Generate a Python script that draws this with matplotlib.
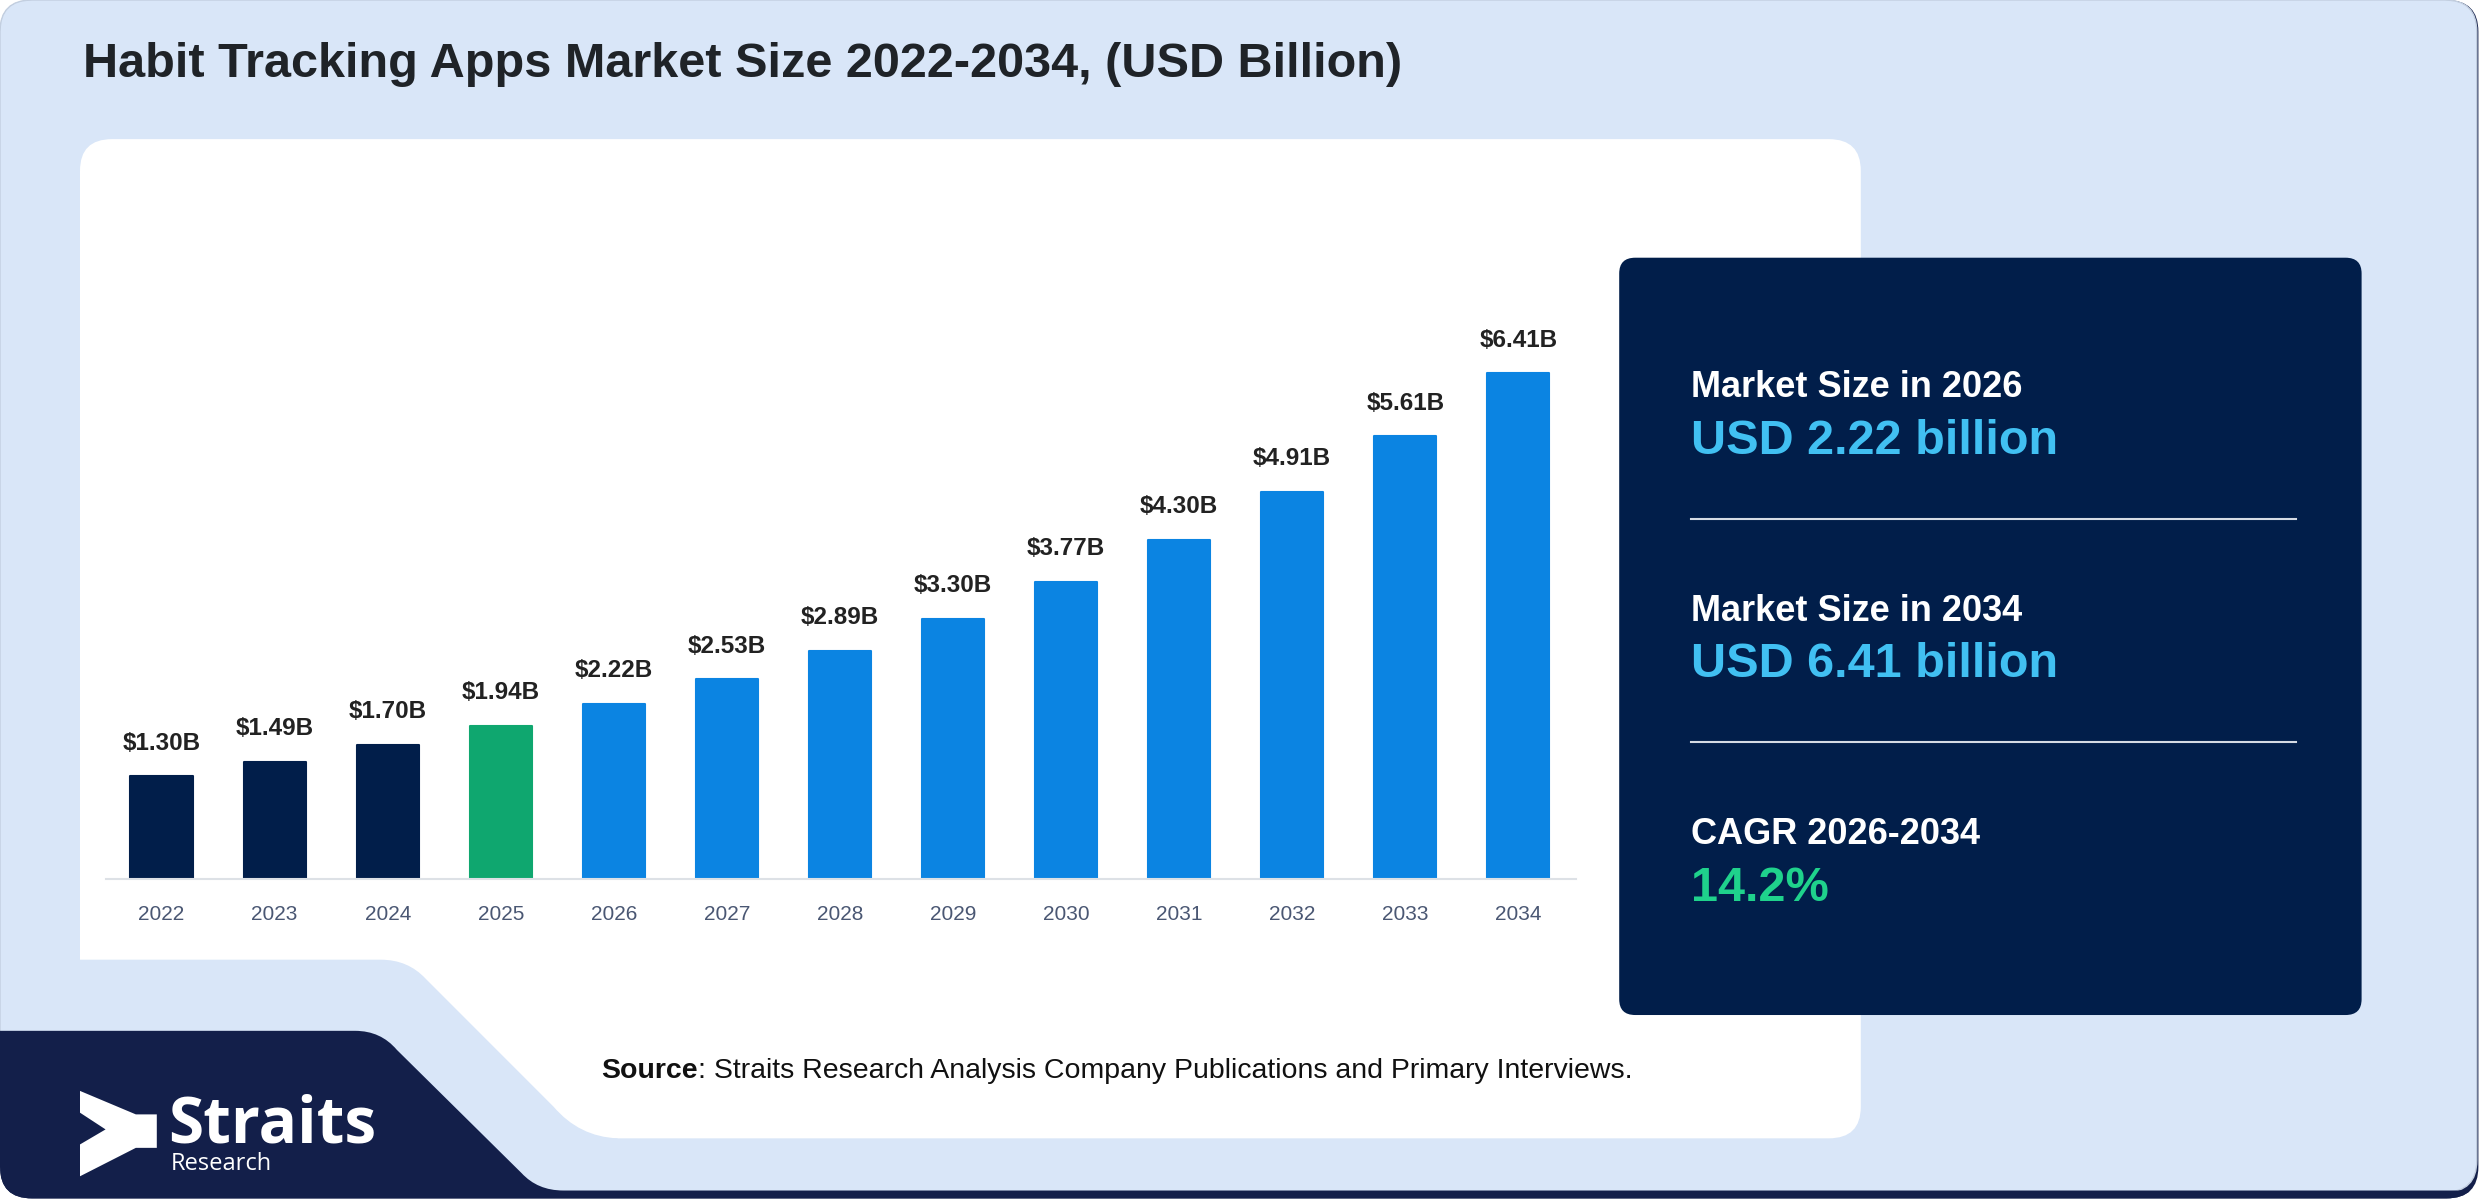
import matplotlib
matplotlib.use("Agg")
import matplotlib.pyplot as plt
import matplotlib.patches as patches
from matplotlib.path import Path

# data
years = [2022, 2023, 2024, 2025, 2026, 2027, 2028, 2029, 2030, 2031, 2032, 2033, 2034]
values = [1.30, 1.49, 1.70, 1.94, 2.22, 2.53, 2.89, 3.30, 3.77, 4.30, 4.91, 5.61, 6.41]
base_year = 2025

title = "Habit Tracking Apps Market Size 2022-2034, (USD Billion)"
stat_labels = ["Market Size in 2026", "Market Size in 2034", "CAGR 2026-2034"]
stat_values = ["USD 2.22 billion", "USD 6.41 billion", "14.2%"]
source_text = ": Straits Research Analysis Company Publications and Primary Interviews."

NAVY = "#011e4a"
LOGO_NAVY = "#131f4a"
GREEN = "#0fa76f"
BLUE = "#0b84e2"
LIGHT = "#d9e6f8"
FONT = "Liberation Sans"


def bar_color(y):
    if y < base_year:
        return NAVY
    if y == base_year:
        return GREEN
    return BLUE


fig = plt.figure(figsize=(24.8, 12), dpi=100)
fig.patch.set_facecolor("white")

# background layer, coordinates in a 1550 x 759 grid, y pointing down
bg = fig.add_axes([0, 0, 1, 1])
bg.set_xlim(0, 1550)
bg.set_ylim(759, 0)
bg.axis("off")

shadow = patches.FancyBboxPatch((0, 0), 1549, 758, boxstyle="round,pad=0,rounding_size=20",
                                facecolor=LOGO_NAVY, edgecolor="none")
bg.add_patch(shadow)
card_bg = patches.FancyBboxPatch((0, 0), 1548, 754, boxstyle="round,pad=0,rounding_size=20",
                                 facecolor=LIGHT, edgecolor="#c3cfe0", linewidth=1)
bg.add_patch(card_bg)

# white chart card
bg.add_patch(patches.FancyBboxPatch((50, 88), 1113, 632, boxstyle="round,pad=0,rounding_size=20",
                                    facecolor="white", edgecolor="none"))

# light blue notch in the bottom left of the card
notch = Path([(40, 607), (238, 607), (255, 607), (266, 619), (346, 700), (362, 719), (386, 720),
              (386, 730), (40, 730), (40, 607)],
             [Path.MOVETO, Path.LINETO, Path.CURVE3, Path.CURVE3, Path.LINETO, Path.CURVE3, Path.CURVE3,
              Path.LINETO, Path.LINETO, Path.CLOSEPOLY])
bg.add_patch(patches.PathPatch(notch, facecolor=LIGHT, edgecolor="none"))

# navy logo block
logo_block = Path([(-5, 652), (222, 652), (238, 652), (248, 664), (326, 742), (336, 753), (352, 753),
                   (1560, 753), (1560, 765), (-5, 765), (-5, 652)],
                  [Path.MOVETO, Path.LINETO, Path.CURVE3, Path.CURVE3, Path.LINETO, Path.CURVE3, Path.CURVE3,
                   Path.LINETO, Path.LINETO, Path.LINETO, Path.CLOSEPOLY])
lb = patches.PathPatch(logo_block, facecolor=LOGO_NAVY, edgecolor="none")
bg.add_patch(lb)
lb.set_clip_path(shadow)

# logo mark
mark = [(0, 0), (0.727, 0.275), (1, 0.275), (1, 0.667), (0.727, 0.667), (0, 1),
        (0, 0.627), (0.333, 0.451), (0, 0.255)]
bg.add_patch(patches.Polygon([(50 + u * 48, 690 + v * 54) for u, v in mark],
                             closed=True, facecolor="white", edgecolor="none"))
bg.text(105, 712, "Straits", fontsize=46, fontweight="bold", family="Open Sans",
        color="white", va="center", ha="left")
bg.text(107, 736, "Research", fontsize=17, family="Open Sans",
        color="white", va="center", ha="left")

# title
bg.text(52, 41, title, fontsize=35, fontweight="bold", family=FONT,
        color="#1f2328", va="center", ha="left")

# right info panel
bg.add_patch(patches.FancyBboxPatch((1012, 163), 464, 479, boxstyle="round,pad=0,rounding_size=10",
                                    facecolor=NAVY, edgecolor="none"))
value_colors = ["#41c0f2", "#41c0f2", "#1fd28c"]
for i, (lab, val) in enumerate(zip(stat_labels, stat_values)):
    y0 = 245 + i * 141.5
    bg.text(1057, y0, lab, fontsize=26, fontweight="bold", family=FONT,
            color="white", va="center", ha="left")
    bg.text(1057, y0 + 34, val, fontsize=35, fontweight="bold", family=FONT,
            color=value_colors[i], va="center", ha="left")
    if i < 2:
        bg.plot([1057, 1435], [y0 + 83, y0 + 83], color="#d5dbe4", lw=1.5)

# source line
src = bg.text(376, 682, "Source", fontsize=20.5, fontweight="bold", family=FONT,
              color="#111111", va="baseline", ha="left")
bg.annotate(source_text, xy=(1, 0), xycoords=src, fontsize=20.5, family=FONT,
            color="#111111", va="bottom", ha="left")

# bar chart
ax = fig.add_axes([66 / 1550, 1 - 556 / 759, (985 - 66) / 1550, 8 * 49.9 / 759])
x = list(range(len(years)))
ax.bar(x, values, width=0.55, color=[bar_color(y) for y in years],
       edgecolor=[bar_color(y) for y in years], linewidth=1.5, joinstyle="round")
for xi, v in zip(x, values):
    ax.annotate(f"${v:.2f}B", (xi, v), xytext=(0, 24), textcoords="offset points",
                ha="center", va="center", fontsize=17.5, fontweight="bold",
                family=FONT, color="#222222")
ax.set_xlim(-0.495, 12.51)
ax.set_ylim(0, 8)
ax.set_facecolor("none")
for s in ["top", "right", "left"]:
    ax.spines[s].set_visible(False)
ax.spines["bottom"].set_color("#dde1e6")
ax.spines["bottom"].set_linewidth(1.5)
ax.set_yticks([])
ax.set_xticks(x, [str(y) for y in years])
ax.tick_params(axis="x", length=0, pad=18.5, labelsize=15, labelcolor="#4a5773")
for t in ax.get_xticklabels():
    t.set_family(FONT)

fig.savefig("out.png", dpi=100, facecolor="white")
